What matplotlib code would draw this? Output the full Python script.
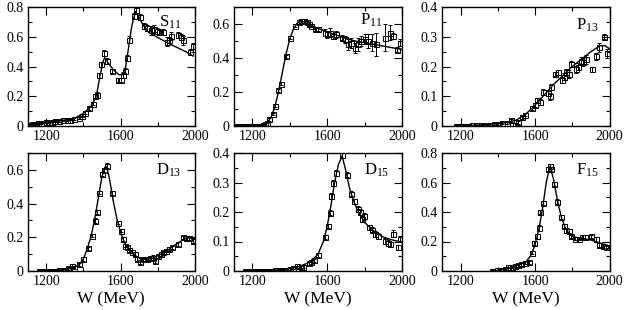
import numpy as np
import matplotlib
matplotlib.use("Agg")
import matplotlib.pyplot as plt
from matplotlib.ticker import MultipleLocator, FormatStrFormatter

plt.rcParams['font.family'] = ['Liberation Serif', 'DejaVu Serif']
plt.rcParams['mathtext.default'] = 'regular'

# ---- S11 ----
s11_w = [1110, 1125, 1140, 1155, 1170, 1185, 1200, 1215, 1230, 1250, 1270, 1290, 1310, 1330, 1350,
         1375, 1395, 1410, 1428, 1450, 1462, 1472, 1485, 1497, 1512, 1528, 1552, 1587, 1602, 1614,
         1623, 1632, 1644, 1673, 1682, 1707, 1725, 1743, 1766, 1780, 1794, 1808, 1826, 1847, 1858,
         1872, 1910, 1926, 1938, 1971, 1989]
s11_v = [0.01, 0.012, 0.015, 0.018, 0.02, 0.022, 0.025, 0.028, 0.03, 0.033, 0.035, 0.038, 0.04, 0.042, 0.048,
         0.055, 0.07, 0.09, 0.12, 0.15, 0.2, 0.21, 0.34, 0.415, 0.49, 0.44, 0.37, 0.31, 0.31, 0.34,
         0.37, 0.46, 0.58, 0.74, 0.78, 0.73, 0.675, 0.66, 0.645, 0.65, 0.64, 0.63, 0.63, 0.565, 0.575,
         0.605, 0.61, 0.6, 0.575, 0.5, 0.54]
s11_e = [0.005, 0.005, 0.005, 0.005, 0.005, 0.005, 0.005, 0.005, 0.005, 0.005, 0.005, 0.005, 0.005, 0.005, 0.005,
         0.008, 0.008, 0.01, 0.01, 0.012, 0.015, 0.02, 0.015, 0.015, 0.02, 0.02, 0.015, 0.015, 0.015, 0.02,
         0.02, 0.02, 0.025, 0.02, 0.02, 0.02, 0.02, 0.02, 0.03, 0.03, 0.02, 0.02, 0.02, 0.03, 0.02,
         0.03, 0.02, 0.02, 0.03, 0.02, 0.02]
s11_fit_w = [1100, 1200, 1300, 1350, 1400, 1440, 1470, 1490, 1505, 1515, 1530, 1560, 1590, 1610, 1625,
             1640, 1660, 1680, 1700, 1720, 1750, 1800, 1850, 1900, 1950, 1990]
s11_fit_v = [0.005, 0.02, 0.04, 0.05, 0.085, 0.13, 0.2, 0.34, 0.43, 0.46, 0.43, 0.38, 0.345, 0.345, 0.38,
             0.5, 0.67, 0.77, 0.73, 0.68, 0.63, 0.595, 0.56, 0.53, 0.5, 0.47]

# ---- P11 ----
p11_w = [1105, 1120, 1135, 1150, 1165, 1180, 1195, 1210, 1225, 1240, 1255, 1269, 1280, 1290, 1311,
         1322, 1340, 1354, 1379, 1402, 1428, 1450, 1462, 1475, 1491, 1502, 1515, 1535, 1550, 1588,
         1600, 1615, 1629, 1650, 1677, 1695, 1712, 1730, 1748, 1765, 1780, 1800, 1820, 1838, 1863,
         1908, 1934, 1950, 1975, 1988]
p11_v = [0, 0, 0, 0, 0, 0, 0, 0, 0, 0.002, 0.005, 0.01, 0.02, 0.04, 0.07,
         0.12, 0.21, 0.25, 0.41, 0.52, 0.59, 0.61, 0.615, 0.615, 0.61, 0.6, 0.59, 0.57, 0.57, 0.55,
         0.54, 0.55, 0.53, 0.54, 0.52, 0.51, 0.48, 0.49, 0.46, 0.48, 0.5, 0.51, 0.5, 0.49, 0.48,
         0.52, 0.55, 0.53, 0.45, 0.49]
p11_e = [0.004, 0.004, 0.004, 0.004, 0.004, 0.004, 0.004, 0.004, 0.004, 0.004, 0.004, 0.005, 0.005, 0.008, 0.008,
         0.01, 0.01, 0.01, 0.01, 0.01, 0.01, 0.012, 0.012, 0.012, 0.01, 0.01, 0.01, 0.012, 0.012, 0.02,
         0.02, 0.025, 0.02, 0.02, 0.015, 0.02, 0.03, 0.03, 0.03, 0.04, 0.03, 0.03, 0.04, 0.05, 0.07,
         0.08, 0.045, 0.02, 0.015, 0.02]
p11_fit_w = [1100, 1240, 1260, 1280, 1300, 1320, 1340, 1360, 1380, 1400, 1420, 1440, 1460, 1480, 1500,
             1550, 1600, 1650, 1700, 1750, 1800, 1850, 1900, 1950, 2000]
p11_fit_v = [0, 0, 0.005, 0.02, 0.05, 0.11, 0.2, 0.31, 0.42, 0.51, 0.57, 0.605, 0.615, 0.612, 0.6,
             0.575, 0.555, 0.535, 0.515, 0.5, 0.49, 0.48, 0.47, 0.46, 0.45]

# ---- P13 ----
p13_w = [1175, 1190, 1205, 1220, 1240, 1260, 1280, 1300, 1320, 1350, 1380, 1400, 1420, 1450, 1470,
         1494, 1510, 1529, 1547, 1583, 1600, 1610, 1628, 1640, 1672, 1680, 1687, 1708, 1722, 1744,
         1756, 1766, 1780, 1792, 1819, 1830, 1848, 1860, 1872, 1905, 1928, 1946, 1973, 1985]
p13_v = [0, 0, 0, 0, 0.001, 0.002, 0.002, 0.003, 0.004, 0.005, 0.007, 0.008, 0.009, 0.01, 0.019,
         0.005, 0.012, 0.03, 0.038, 0.06, 0.07, 0.087, 0.08, 0.115, 0.11, 0.1, 0.13, 0.175, 0.18, 0.155,
         0.165, 0.18, 0.175, 0.208, 0.19, 0.2, 0.22, 0.215, 0.225, 0.19, 0.235, 0.265, 0.3, 0.245]
p13_e = [0.002, 0.002, 0.002, 0.002, 0.002, 0.002, 0.002, 0.002, 0.002, 0.003, 0.003, 0.003, 0.003, 0.004, 0.005,
         0.005, 0.005, 0.006, 0.006, 0.006, 0.007, 0.008, 0.01, 0.01, 0.01, 0.012, 0.01, 0.008, 0.008, 0.01,
         0.012, 0.012, 0.012, 0.01, 0.012, 0.012, 0.012, 0.012, 0.015, 0.01, 0.012, 0.015, 0.008, 0.015]
p13_fit_w = [1180, 1300, 1400, 1450, 1500, 1550, 1600, 1650, 1700, 1750, 1800, 1850, 1900, 1950, 1975, 2000]
p13_fit_v = [0, 0.003, 0.008, 0.012, 0.02, 0.04, 0.07, 0.105, 0.14, 0.17, 0.2, 0.225, 0.25, 0.27, 0.27, 0.26]

# ---- D13 ----
d13_w = [1163, 1180, 1195, 1210, 1225, 1240, 1255, 1270, 1285, 1300, 1320, 1337, 1350, 1376, 1399,
         1426, 1449, 1462, 1471, 1485, 1498, 1512, 1525, 1552, 1587, 1602, 1614, 1623, 1632, 1645,
         1660, 1677, 1690, 1704, 1720, 1740, 1760, 1775, 1785, 1799, 1815, 1830, 1842, 1858, 1874,
         1910, 1937, 1952, 1967, 1990]
d13_v = [0, 0, 0, 0, 0, 0, 0.002, 0.003, 0.005, 0.008, 0.015, 0.03, 0.02, 0.04, 0.071,
         0.135, 0.21, 0.297, 0.35, 0.465, 0.575, 0.6, 0.625, 0.465, 0.287, 0.24, 0.19, 0.15, 0.14, 0.125,
         0.115, 0.1, 0.07, 0.055, 0.07, 0.07, 0.075, 0.08, 0.06, 0.09, 0.1, 0.11, 0.12, 0.13, 0.14,
         0.16, 0.2, 0.195, 0.195, 0.18]
d13_e = [0.005, 0.005, 0.005, 0.005, 0.005, 0.005, 0.005, 0.005, 0.005, 0.006, 0.008, 0.012, 0.01, 0.01, 0.01,
         0.01, 0.01, 0.015, 0.012, 0.01, 0.012, 0.012, 0.015, 0.012, 0.01, 0.01, 0.01, 0.01, 0.01, 0.01,
         0.01, 0.01, 0.012, 0.012, 0.01, 0.01, 0.012, 0.012, 0.015, 0.01, 0.01, 0.01, 0.01, 0.01, 0.01,
         0.01, 0.01, 0.01, 0.01, 0.015]
d13_fit_w = [1160, 1250, 1300, 1350, 1380, 1400, 1420, 1440, 1460, 1480, 1500, 1515, 1525, 1540, 1560,
             1580, 1600, 1620, 1650, 1680, 1710, 1740, 1770, 1800, 1850, 1900, 1950, 1980, 2000]
d13_fit_v = [0, 0.002, 0.008, 0.02, 0.04, 0.07, 0.13, 0.2, 0.3, 0.43, 0.56, 0.615, 0.62, 0.55, 0.42,
             0.31, 0.23, 0.17, 0.12, 0.09, 0.07, 0.068, 0.075, 0.09, 0.12, 0.16, 0.195, 0.195, 0.19]

# ---- D15 ----
d15_w = [1161, 1175, 1190, 1205, 1220, 1235, 1250, 1265, 1280, 1300, 1320, 1350, 1372, 1400, 1420,
         1440, 1458, 1472, 1501, 1515, 1528, 1552, 1587, 1605, 1618, 1623, 1632, 1647, 1681, 1707,
         1725, 1745, 1763, 1775, 1788, 1799, 1824, 1840, 1856, 1870, 1910, 1925, 1937, 1951, 1978, 1987]
d15_v = [0, 0, 0, 0, 0, 0, 0, 0, 0, 0, 0.002, 0.003, 0.005, 0.008, 0.01,
         0.017, 0.012, 0.015, 0.026, 0.03, 0.037, 0.054, 0.114, 0.153, 0.198, 0.255, 0.298, 0.332, 0.394, 0.326,
         0.262, 0.236, 0.21, 0.2, 0.177, 0.185, 0.148, 0.14, 0.126, 0.12, 0.103, 0.095, 0.09, 0.126, 0.08, 0.109]
d15_e = [0.002, 0.002, 0.002, 0.002, 0.002, 0.002, 0.002, 0.002, 0.002, 0.002, 0.002, 0.002, 0.003, 0.003, 0.004,
         0.006, 0.006, 0.006, 0.005, 0.005, 0.005, 0.006, 0.007, 0.008, 0.008, 0.01, 0.01, 0.01, 0.01, 0.008,
         0.008, 0.008, 0.01, 0.01, 0.01, 0.012, 0.008, 0.008, 0.01, 0.01, 0.01, 0.01, 0.008, 0.012, 0.008, 0.008]
d15_fit_w = [1160, 1300, 1400, 1450, 1500, 1550, 1580, 1600, 1620, 1640, 1660, 1680, 1700, 1720, 1740,
             1760, 1780, 1800, 1850, 1900, 1950, 2000]
d15_fit_v = [0, 0.002, 0.008, 0.015, 0.028, 0.055, 0.1, 0.15, 0.22, 0.3, 0.36, 0.39, 0.34, 0.28, 0.24,
             0.21, 0.185, 0.165, 0.135, 0.115, 0.105, 0.098]

# ---- F15 ----
f15_w = [1371, 1394, 1417, 1439, 1457, 1474, 1492, 1510, 1524, 1546, 1566, 1581, 1596, 1608, 1620,
         1629, 1640, 1667, 1679, 1688, 1702, 1720, 1738, 1754, 1768, 1781, 1795, 1813, 1834, 1852,
         1870, 1902, 1929, 1943, 1964, 1982, 1991]
f15_v = [0.003, 0.005, 0.008, 0.015, 0.03, 0.03, 0.035, 0.04, 0.045, 0.055, 0.06, 0.125, 0.19, 0.235, 0.29,
         0.4, 0.46, 0.69, 0.71, 0.69, 0.59, 0.47, 0.365, 0.305, 0.275, 0.27, 0.235, 0.22, 0.22, 0.23,
         0.23, 0.235, 0.215, 0.175, 0.17, 0.16, 0.165]
f15_e = [0.005, 0.005, 0.005, 0.008, 0.01, 0.01, 0.01, 0.01, 0.01, 0.01, 0.01, 0.012, 0.015, 0.015, 0.02,
         0.015, 0.015, 0.015, 0.015, 0.015, 0.015, 0.015, 0.015, 0.015, 0.015, 0.015, 0.012, 0.012, 0.012, 0.012,
         0.012, 0.012, 0.015, 0.015, 0.012, 0.012, 0.012]
f15_fit_w = [1370, 1450, 1500, 1550, 1580, 1600, 1620, 1640, 1660, 1680, 1700, 1720, 1740, 1760, 1780,
             1800, 1850, 1900, 1950, 2000]
f15_fit_v = [0, 0.015, 0.035, 0.06, 0.11, 0.18, 0.28, 0.42, 0.6, 0.71, 0.62, 0.48, 0.37, 0.3, 0.26,
             0.235, 0.22, 0.21, 0.19, 0.17]

names = ['S$_{11}$', 'P$_{11}$', 'P$_{13}$', 'D$_{13}$', 'D$_{15}$', 'F$_{15}$']
ylims = [0.8, 0.7, 0.4, 0.7, 0.4, 0.8]
ymajor = [0.2, 0.2, 0.1, 0.2, 0.1, 0.2]
name_pos = [(0.85, 0.87), (0.82, 0.89), (0.865, 0.85), (0.84, 0.855), (0.85, 0.855), (0.87, 0.855)]

data = [(s11_w, s11_v, s11_e, s11_fit_w, s11_fit_v),
        (p11_w, p11_v, p11_e, p11_fit_w, p11_fit_v),
        (p13_w, p13_v, p13_e, p13_fit_w, p13_fit_v),
        (d13_w, d13_v, d13_e, d13_fit_w, d13_fit_v),
        (d15_w, d15_v, d15_e, d15_fit_w, d15_fit_v),
        (f15_w, f15_v, f15_e, f15_fit_w, f15_fit_v)]

fig = plt.figure(figsize=(6.27, 3.10), dpi=100)
W, H = 627.0, 310.0
lefts = [27.5, 233.5, 442]
widths = [167.5, 168.5, 167.5]
tops = [7, 153]
heights = [119, 118]

for i in range(6):
    r, c = divmod(i, 3)
    ax = fig.add_axes([lefts[c] / W, (H - tops[r] - heights[r]) / H, widths[c] / W, heights[r] / H])
    w, v, e, fw, fv = data[i]
    ax.plot(fw, fv, color='black', lw=1.0, zorder=2)
    ax.errorbar(w, v, yerr=e, fmt='s', ms=3.6, mfc='none', mec='black', mew=0.7,
                ecolor='black', elinewidth=0.7, capsize=1.6, capthick=0.7, zorder=3)
    ax.set_xlim(1100, 2000)
    ax.set_ylim(0, ylims[i])
    ax.xaxis.set_major_locator(MultipleLocator(400))
    ax.xaxis.set_minor_locator(MultipleLocator(200))
    ax.yaxis.set_major_locator(MultipleLocator(ymajor[i]))
    ax.yaxis.set_minor_locator(MultipleLocator(ymajor[i] / 2))
    ax.yaxis.set_major_formatter(FormatStrFormatter('%g'))
    ax.tick_params(which='both', direction='in', top=True, right=True, labelsize=10, pad=3)
    ax.tick_params(which='major', length=6, width=0.8)
    ax.tick_params(which='minor', length=3, width=0.8)
    for s in ax.spines.values():
        s.set_linewidth(1.0)
    ax.text(name_pos[i][0], name_pos[i][1], names[i], transform=ax.transAxes,
            ha='center', va='center', fontsize=12)
    if r == 1:
        ax.set_xlabel('W (MeV)', fontsize=12.5, labelpad=2)

fig.savefig('out.png', dpi=100)
